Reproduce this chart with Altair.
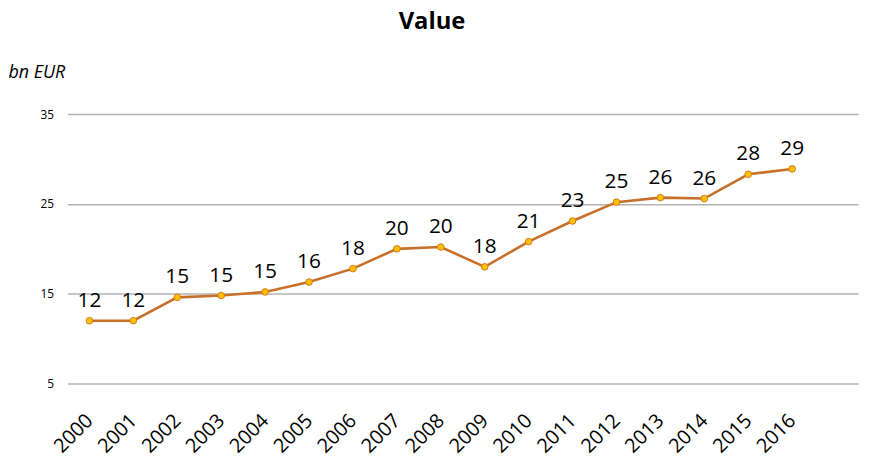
import altair as alt
import pandas as pd

years = [2000, 2001, 2002, 2003, 2004, 2005, 2006, 2007, 2008, 2009,
         2010, 2011, 2012, 2013, 2014, 2015, 2016]
values = [12.0, 12.0, 14.6, 14.8, 15.2, 16.3, 17.8, 20.0, 20.2, 18.0,
          20.8, 23.1, 25.2, 25.7, 25.6, 28.3, 28.9]
y_ticks = [5, 15, 25, 35]

df = pd.DataFrame({"year": years, "value": values})

FONT = "Open Sans"

x = alt.X("year:Q",
          scale=alt.Scale(domain=[1999.5, 2017.5], nice=False, zero=False),
          axis=alt.Axis(values=years, format="d", labelAngle=-45, labelAlign="right",
                        labelBaseline="middle", labelFontSize=20, labelFont=FONT,
                        labelColor="#000000", domain=False, ticks=False, grid=False,
                        labelOverlap=False, labelPadding=34, title=None))
y = alt.Y("value:Q",
          scale=alt.Scale(domain=[5, 35], nice=False, zero=False),
          axis=alt.Axis(values=y_ticks, labelFontSize=12, labelFont=FONT,
                        labelColor="#000000", domain=False, ticks=False, grid=True,
                        gridColor="#b3b3b3", gridWidth=1.5, labelPadding=14,
                        title="bn EUR", titleAngle=0, titleAlign="left",
                        titleBaseline="alphabetic", titleX=-60, titleY=-37,
                        titleFont=FONT, titleFontSize=18, titleFontStyle="italic",
                        titleFontWeight="normal", titleColor="#000000"))

base = alt.Chart(df)
line = base.mark_line(color="#c8702a", strokeWidth=2.6).encode(x=x, y=y)
points = base.mark_point(filled=True, fill="#ffc000", stroke="#d07a20",
                         strokeWidth=1, size=45, opacity=1).encode(x=x, y=y)
labels = base.mark_text(font=FONT, fontSize=21, color="#000000", dy=-14,
                        baseline="alphabetic").encode(
    x=x, y=y, text=alt.Text("value:Q", format=".0f"))

chart = (line + points + labels).properties(
    width=798, height=272,
    background="#ffffff",
    autosize=alt.AutoSizeParams(type="none"),
    padding={"left": 60, "top": 105, "right": 3, "bottom": 72},
    title=alt.TitleParams("Value", font=FONT, fontSize=24, fontWeight="bold",
                          color="#000000", anchor="middle", dx=-31, offset=30,
                          limit=400),
).configure_view(stroke=None)

chart.save("out.html", embed_options={"renderer": "svg", "actions": False})
